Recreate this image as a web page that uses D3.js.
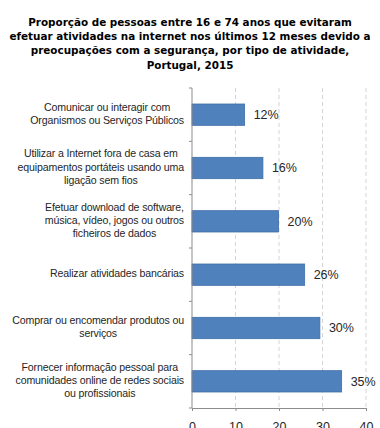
<!DOCTYPE html>
<html>
<head>
<meta charset="utf-8">
<script src="https://cdn.jsdelivr.net/npm/d3@7"></script>
<style>
  body { margin: 0; background: #fff; }
  svg { display: block; }
</style>
</head>
<body>
<div id="chart"></div>
<script>
// chart data
var titleLines = [
  "Proporção de pessoas entre 16 e 74 anos que evitaram",
  "efetuar atividades na internet nos últimos 12 meses devido a",
  "preocupações com a segurança, por tipo de atividade,",
  "Portugal, 2015"
];
var categories = [
  ["Comunicar ou interagir com", "Organismos ou Serviços Públicos"],
  ["Utilizar a Internet fora de casa em", "equipamentos portáteis usando uma", "ligação sem fios"],
  ["Efetuar download de software,", "música, vídeo, jogos ou outros", "ficheiros de dados"],
  ["Realizar atividades bancárias"],
  ["Comprar ou encomendar produtos ou", "serviços"],
  ["Fornecer informação pessoal para", "comunidades online de redes sociais", "ou profissionais"]
];
var values = [12.1, 16.3, 19.9, 25.9, 29.4, 34.4];
var valueLabels = ["12%", "16%", "20%", "26%", "30%", "35%"];
var xTicks = [0, 10, 20, 30, 40];

var W = 380, H = 428;
var margin = {top: 88, right: 14, bottom: 20, left: 192};
var width = W - margin.left - margin.right,
    height = H - margin.top - margin.bottom;
var bodyFont = "'Liberation Sans', Arial, sans-serif";

var root = d3.select("#chart")
  .append("svg")
    .attr("width", W)
    .attr("height", H);

// title - sized so the first line is as wide as in the picture
var title = root.append("g")
  .selectAll("text")
  .data(titleLines)
  .enter()
  .append("text")
    .attr("x", 190)
    .attr("y", function(d, i) { return 26 + i * 14.2; })
    .attr("text-anchor", "middle")
    .style("font-family", "'DejaVu Sans', Verdana, sans-serif")
    .style("font-weight", "bold")
    .style("font-size", "12px")
    .style("fill", "#000")
    .text(function(d) { return d; });
var firstW = title.node().getComputedTextLength();
title.style("font-size", (12 * 324 / firstW) + "px");

var svg = root.append("g")
  .attr("transform", "translate(" + margin.left + "," + margin.top + ")");

var x = d3.scaleLinear()
  .domain([0, 40])
  .range([0, 174]);

var y = d3.scaleBand()
  .domain(d3.range(categories.length))
  .range([0, height])
  .paddingInner(0.6)
  .paddingOuter(0.3);

var yBound = d3.scaleLinear()
  .domain([0, categories.length])
  .range([0, height]);

// dashed grid
svg.append("g")
  .selectAll("line")
  .data(xTicks.slice(1))
  .enter()
  .append("line")
    .attr("x1", function(d) { return x(d); })
    .attr("x2", function(d) { return x(d); })
    .attr("y1", 0)
    .attr("y2", height)
    .style("stroke", "#d4d4d4")
    .style("stroke-dasharray", "4,3");

// bars
svg.append("g")
  .selectAll("rect")
  .data(values)
  .enter()
  .append("rect")
    .attr("x", x(0))
    .attr("y", function(d, i) { return y(i); })
    .attr("width", function(d) { return x(d) - x(0); })
    .attr("height", y.bandwidth())
    .style("fill", "#4f81bd")
    .style("stroke", "#3f6ea8")
    .style("stroke-width", 0.8);

// value labels
svg.append("g")
  .selectAll("text")
  .data(values)
  .enter()
  .append("text")
    .attr("x", function(d) { return x(d) + 9; })
    .attr("y", function(d, i) { return y(i) + y.bandwidth() / 2 + 1; })
    .attr("dominant-baseline", "middle")
    .style("font-family", bodyFont)
    .style("font-size", "12.5px")
    .style("fill", "#262626")
    .text(function(d, i) { return valueLabels[i]; });

// x axis
var xAxis = svg.append("g")
  .attr("transform", "translate(0," + height + ")")
  .call(d3.axisBottom(x).tickValues(xTicks).tickSize(3).tickPadding(11).tickFormat(d3.format("d")));
xAxis.select(".domain").style("stroke", "#8c8c8c");
xAxis.selectAll(".tick line").style("stroke", "#8c8c8c");
xAxis.selectAll("text")
  .style("font-family", bodyFont)
  .style("font-size", "12.5px")
  .style("fill", "#262626");

// y axis line + boundary ticks
var yAxis = svg.append("g");
yAxis.append("line")
  .attr("x1", 0).attr("x2", 0)
  .attr("y1", yBound(0)).attr("y2", yBound(categories.length))
  .style("stroke", "#8c8c8c");
yAxis.selectAll(".bt")
  .data(d3.range(categories.length + 1))
  .enter()
  .append("line")
    .attr("class", "bt")
    .attr("x1", -3).attr("x2", 0)
    .attr("y1", function(d) { return yBound(d); })
    .attr("y2", function(d) { return yBound(d); })
    .style("stroke", "#8c8c8c");

// category labels: lines centered in a block that is right aligned to the axis
var lineH = 13.3;
var groups = yAxis.selectAll(".cat")
  .data(categories)
  .enter()
  .append("g")
    .attr("class", "cat");

groups.each(function(lines, i) {
  var g = d3.select(this);
  var cy = y(i) + y.bandwidth() / 2;
  var texts = g.selectAll("text")
    .data(lines)
    .enter()
    .append("text")
      .attr("y", function(d, j) { return cy + (j - (lines.length - 1) / 2) * lineH; })
      .attr("dominant-baseline", "middle")
      .attr("text-anchor", "middle")
      .style("font-family", bodyFont)
      .style("font-size", "10.6px")
      .style("letter-spacing", "-0.15px")
      .style("fill", "#262626")
      .text(function(d) { return d; });
  var maxW = 0;
  texts.each(function() { maxW = Math.max(maxW, this.getComputedTextLength()); });
  texts.attr("x", -8 - maxW / 2);
});
</script>
</body>
</html>
